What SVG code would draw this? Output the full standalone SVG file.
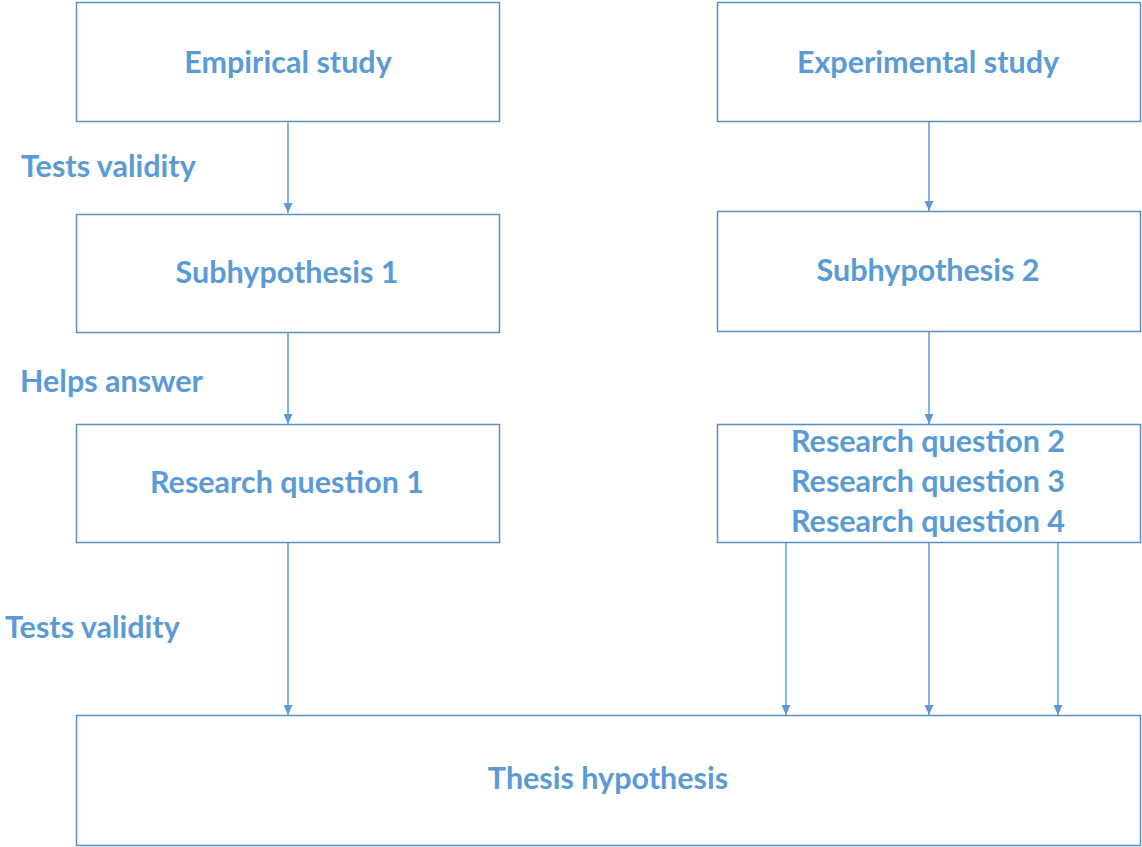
<svg xmlns="http://www.w3.org/2000/svg" width="1142" height="847" viewBox="0 0 1142 847">
<style>
.box{fill:#fff;stroke:#5B8FC9;stroke-width:1.5}
.t{font-family:Lato,"Open Sans",sans-serif;font-weight:bold;font-size:30.5px;fill:#5B9BD5;text-anchor:middle}
.l{font-family:Lato,"Open Sans",sans-serif;font-weight:bold;font-size:30.5px;fill:#5B9BD5}
.c{stroke:#5B9BD5;stroke-width:1.5;fill:none;marker-end:url(#a)}
</style>
<defs>
<marker id="a" markerWidth="11" markerHeight="9" refX="10" refY="4.5" orient="auto" markerUnits="userSpaceOnUse">
<path d="M0,0 L10,4.5 L0,9 Z" fill="#5B9BD5"/>
</marker>
</defs>
<rect width="1142" height="847" fill="#fff"/>
<g id="connectors">
<line class="c" x1="288" y1="121" x2="288" y2="213"/>
<line class="c" x1="929" y1="121" x2="929" y2="211"/>
<line class="c" x1="288" y1="332" x2="288" y2="424"/>
<line class="c" x1="929" y1="331" x2="929" y2="424"/>
<line class="c" x1="288" y1="543" x2="288" y2="715"/>
<line class="c" x1="786" y1="543" x2="786" y2="715"/>
<line class="c" x1="929" y1="543" x2="929" y2="715"/>
<line class="c" x1="1058" y1="543" x2="1058" y2="715"/>
</g>
<g id="empirical"><rect class="box" x="76.5" y="2.5" width="423" height="119"/><text class="t" x="288" y="73">Empirical study</text></g>
<g id="experimental"><rect class="box" x="717.5" y="2.5" width="423" height="119"/><text class="t" x="928" y="73">Experimental study</text></g>
<g id="sub1"><rect class="box" x="76.5" y="214.5" width="423" height="118"/><text class="t" x="287" y="283">Subhypothesis 1</text></g>
<g id="sub2"><rect class="box" x="717.5" y="211.5" width="423" height="120"/><text class="t" x="928" y="281">Subhypothesis 2</text></g>
<g id="rq1"><rect class="box" x="76.5" y="424.5" width="423" height="118"/><text class="t" x="287" y="493">Research question 1</text></g>
<g id="rq234"><rect class="box" x="717.5" y="424.5" width="423" height="118"/><text class="t" x="928" y="452">Research question 2</text><text class="t" x="928" y="492">Research question 3</text><text class="t" x="928" y="532">Research question 4</text></g>
<g id="thesis"><rect class="box" x="76.5" y="715.5" width="1064" height="130"/><text class="t" x="608" y="789">Thesis hypothesis</text></g>
<g id="labels">
<text class="l" x="21" y="177">Tests validity</text>
<text class="l" x="20" y="392">Helps answer</text>
<text class="l" x="5" y="638">Tests validity</text>
</g>
</svg>
